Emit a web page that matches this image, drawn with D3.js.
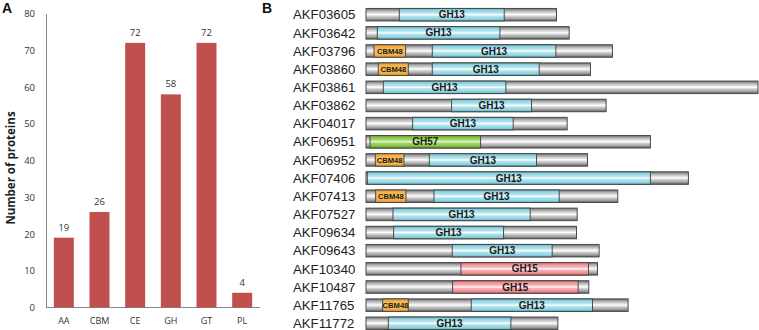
<!DOCTYPE html>
<html><head><meta charset="utf-8">
<script src="https://cdn.jsdelivr.net/npm/d3@7"></script>
<style>body{margin:0;background:#fff}svg{display:block}</style>
</head><body><div id="c"></div>
<script>
// Panel A data
const categories = ["AA","CBM","CE","GH","GT","PL"];
const counts = [19,26,72,58,72,4];
const yTicks = [0,10,20,30,40,50,60,70,80];

// Panel B data
const proteinNames = ["AKF03605","AKF03642","AKF03796","AKF03860","AKF03861","AKF03862","AKF04017","AKF06951","AKF06952","AKF07406","AKF07413","AKF07527","AKF09634","AKF09643","AKF10340","AKF10487","AKF11765","AKF11772"];
const proteinLengths = [572,610,740,674,1177,721,604,854,665,968,756,634,632,700,695,669,787,576];
// domains: [proteinIndex, type, start, end]
const domainProtein = [0,1,2,2,3,3,4,5,6,7,8,8,9,10,10,11,12,13,14,15,16,16,17];
const domainType = ["GH13","GH13","CBM48","GH13","CBM48","GH13","GH13","GH13","GH13","GH57","CBM48","GH13","GH13","CBM48","GH13","GH13","GH13","GH13","GH15","GH15","CBM48","GH13","GH13"];
const domainStart = [100,34,24,199,37,199,52,257,140,12,28,190,4,29,204,81,83,259,285,260,50,316,67];
const domainEnd = [415,402,119,570,127,520,420,497,442,344,114,512,854,120,580,493,413,559,668,637,127,680,435];

const W=759,H=330;
const svg=d3.select("#c").append("svg").attr("width",W).attr("height",H);
const defs=svg.append("defs");
function grad(id, stops){
  const g=defs.append("linearGradient").attr("id",id).attr("x1",0).attr("y1",0).attr("x2",0).attr("y2",1);
  stops.forEach(s=>g.append("stop").attr("offset",s[0]).attr("stop-color",s[1]));
}
grad("g-grey",[[0,"#666666"],[0.15,"#a4a4a4"],[0.38,"#e2e2e2"],[0.5,"#ffffff"],[0.62,"#d2d2d2"],[0.85,"#9a9a9a"],[1,"#555555"]]);
grad("g-GH13",[[0,"#5fb6c8"],[0.15,"#8fd3e2"],[0.38,"#b9e6ef"],[0.5,"#ffffff"],[0.62,"#b2e3ee"],[0.85,"#8dd2e1"],[1,"#5aaec0"]]);
grad("g-GH15",[[0,"#d9646c"],[0.15,"#f08d94"],[0.38,"#f8b9bd"],[0.5,"#ffffff"],[0.62,"#f7b2b7"],[0.85,"#ee8a91"],[1,"#d25e66"]]);
grad("g-GH57",[[0,"#5f9e2a"],[0.15,"#86c444"],[0.38,"#acdb75"],[0.5,"#e8f8d6"],[0.62,"#a6d86c"],[0.85,"#82c040"],[1,"#5a9826"]]);
grad("g-CBM48",[[0,"#e59a2e"],[0.2,"#f5b248"],[0.5,"#f9c164"],[0.8,"#f5b046"],[1,"#e0952a"]]);

// ---------- Panel A ----------
const gA=svg.append("g");
const yA=d3.scaleLinear().domain([0,80]).range([307.5,13.5]);
const xA=d3.scaleBand().domain(categories).range([46,260]).paddingInner(0.44).paddingOuter(0.22);
gA.append("text").attr("x",2).attr("y",13).text("A").attr("font-family","Liberation Sans, Arial, sans-serif").attr("font-weight","bold").attr("font-size",14).attr("fill","#111");
const yAxis=d3.axisLeft(yA).tickValues(yTicks).tickSize(0).tickPadding(11);
const ya=gA.append("g").attr("transform","translate(46,0)").call(yAxis);
ya.select(".domain").attr("stroke","#888").attr("stroke-width",1);
ya.selectAll("text").attr("font-family","Open Sans, Liberation Sans, sans-serif").attr("font-size",9.5).attr("fill","#333");
const xAxis=d3.axisBottom(xA).tickSize(0).tickPadding(10);
const xa=gA.append("g").attr("transform","translate(0,307.5)").call(xAxis);
xa.select(".domain").attr("stroke","#888").attr("stroke-width",1).attr("d","M46,0H260");
xa.selectAll("text").attr("font-family","Open Sans, Liberation Sans, sans-serif").attr("font-size",9).attr("fill","#333");
gA.selectAll("rect.bar").data(categories).join("rect").attr("class","bar")
  .attr("x",d=>xA(d)).attr("width",xA.bandwidth())
  .attr("y",(d,i)=>yA(counts[i])).attr("height",(d,i)=>yA(0)-yA(counts[i]))
  .attr("fill","#c0504d");
gA.selectAll("text.val").data(categories).join("text").attr("class","val")
  .attr("x",d=>xA(d)+xA.bandwidth()/2).attr("y",(d,i)=>yA(counts[i])-7)
  .attr("text-anchor","middle").attr("font-family","Open Sans, Liberation Sans, sans-serif").attr("font-size",9.5).attr("fill","#333")
  .text((d,i)=>counts[i]);
gA.append("text").attr("transform","translate(15,168) rotate(-90)").attr("text-anchor","middle")
  .attr("font-family","Open Sans, Liberation Sans, sans-serif").attr("font-weight","bold").attr("font-size",11.5).attr("fill","#222")
  .text("Number of proteins");

// ---------- Panel B ----------
const gB=svg.append("g");
gB.append("text").attr("x",262).attr("y",13).text("B").attr("font-family","Liberation Sans, Arial, sans-serif").attr("font-weight","bold").attr("font-size",14).attr("fill","#111");
const yB=d3.scalePoint().domain(proteinNames).range([14.7,323.3]);
const xB=d3.scaleLinear().domain([0,1177]).range([366,758]);
const bh=12.5;
gB.selectAll("text.name").data(proteinNames).join("text").attr("class","name")
  .attr("x",293).attr("y",d=>yB(d)+4.7)
  .attr("font-family","Liberation Sans, Arial, sans-serif").attr("font-size",13.2).attr("fill","#222").text(d=>d);
gB.selectAll("rect.prot").data(proteinNames).join("rect").attr("class","prot")
  .attr("x",xB(0)).attr("y",d=>yB(d)-bh/2).attr("width",(d,i)=>xB(proteinLengths[i])-xB(0)).attr("height",bh)
  .attr("fill","url(#g-grey)").attr("stroke","#4a4a4a").attr("stroke-width",1);
const doms=domainType.map((t,i)=>({t,p:proteinNames[domainProtein[i]],s:domainStart[i],e:domainEnd[i]}));
gB.selectAll("rect.dom").data(doms).join("rect").attr("class","dom")
  .attr("x",d=>xB(d.s)).attr("y",d=>yB(d.p)-bh/2).attr("width",d=>xB(d.e)-xB(d.s)).attr("height",bh)
  .attr("fill",d=>`url(#g-${d.t})`).attr("stroke","#4a4a4a").attr("stroke-width",1);
gB.selectAll("text.dl").data(doms).join("text").attr("class","dl")
  .attr("x",d=>(xB(d.s)+xB(d.e))/2).attr("y",d=>yB(d.p)+(d.t==="CBM48"?2.7:3.6))
  .attr("text-anchor","middle").attr("font-family","Liberation Sans, Arial, sans-serif").attr("font-weight","bold")
  .attr("font-size",d=>d.t==="CBM48"?7.6:10).attr("fill","#1a1a1a").text(d=>d.t);
</script></body></html>
